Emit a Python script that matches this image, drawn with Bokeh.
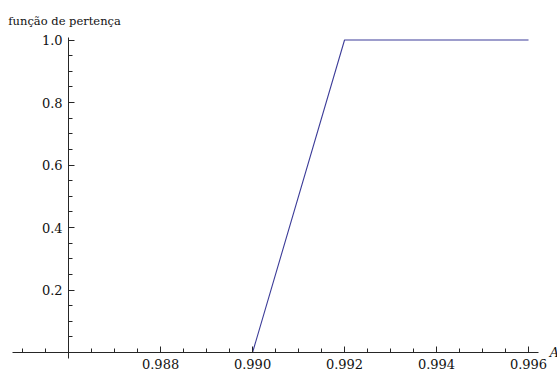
from bokeh.plotting import figure
from bokeh.models import LinearAxis, FixedTicker, PrintfTickFormatter, Range1d
from bokeh.core.properties import value
from bokeh.embed import file_html
from bokeh.resources import INLINE

# membership function: 0 up to 0.990, linear rise to 1 at 0.992, then flat
a_values = [0.985, 0.990, 0.992, 0.996]
membership = [0.0, 0.0, 1.0, 1.0]

x_major_ticks = [0.988, 0.990, 0.992, 0.994, 0.996]
x_minor_ticks = [0.985, 0.9855, 0.9865, 0.987, 0.9875, 0.9885, 0.989, 0.9895,
                 0.9905, 0.991, 0.9915, 0.9925, 0.993, 0.9935, 0.9945, 0.995, 0.9955]
y_major_ticks = [0.2, 0.4, 0.6, 0.8, 1.0]
y_minor_ticks = [0.05, 0.1, 0.15, 0.25, 0.3, 0.35, 0.45, 0.5, 0.55,
                 0.65, 0.7, 0.75, 0.85, 0.9, 0.95]

y_title = "função de pertença"
x_title = "A"

W, H = 557, 376
x_origin, y_origin = 0.986, 0.0

p = figure(width=W, height=H, output_backend="svg", toolbar_location=None,
           x_axis_type=None, y_axis_type=None,
           x_range=Range1d(0.98452, 0.99663), y_range=Range1d(-0.0768, 1.1264),
           min_border=0, outline_line_color=None,
           background_fill_color="white", border_fill_color="white")
p.grid.visible = False

p.line(a_values, membership, line_color="#3d3d99", line_width=1.1)

font = "DejaVu Serif"
axis_color = "#262626"

xaxis = LinearAxis(fixed_location=y_origin, bounds=(0.98478, 0.99622),
                   ticker=FixedTicker(ticks=x_major_ticks, minor_ticks=x_minor_ticks),
                   formatter=PrintfTickFormatter(format="%.3f"))
yaxis = LinearAxis(fixed_location=x_origin, bounds=(-0.019, 1.008),
                   ticker=FixedTicker(ticks=y_major_ticks, minor_ticks=y_minor_ticks),
                   formatter=PrintfTickFormatter(format="%.1f"))
for ax in (xaxis, yaxis):
    ax.axis_line_color = axis_color
    ax.major_tick_line_color = axis_color
    ax.minor_tick_line_color = axis_color
    ax.major_tick_in = 6
    ax.major_tick_out = 0
    ax.minor_tick_in = 4
    ax.minor_tick_out = 0
    ax.major_label_text_font = font
    ax.major_label_text_font_size = "13px"
    ax.major_label_text_color = "#111111"
    ax.major_label_standoff = 6
p.add_layout(xaxis, "below")
p.add_layout(yaxis, "left")

p.text(x=[0.98469], y=[1.0624], text=[y_title], text_font=value(font),
       text_font_size="11.5px", text_baseline="alphabetic", text_align="left",
       text_color="#111111")
p.text(x=[0.99646], y=[0.0], text=[x_title], text_font=value(font),
       text_font_style="italic", text_font_size="13px", text_baseline="middle",
       text_align="left", text_color="#111111")

open("out.html", "w").write(file_html(p, INLINE))
